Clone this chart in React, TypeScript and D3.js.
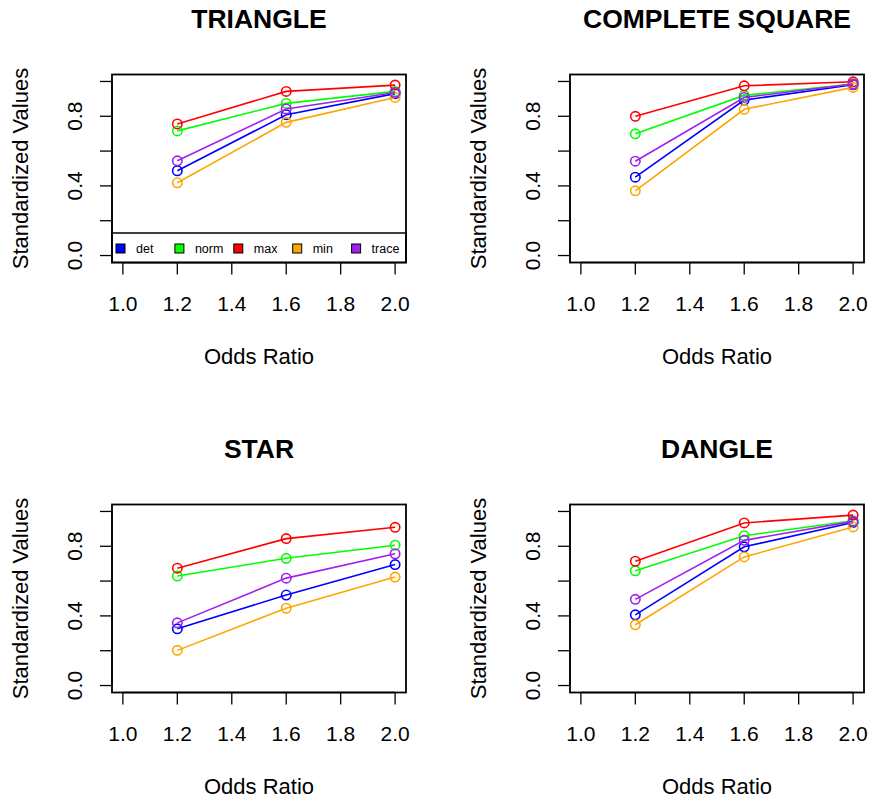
import React from 'react';
import * as d3 from 'd3';

// x positions (odds ratio) shared by all panels
const oddsRatios = [1.2, 1.6, 2.0];
const xTicks = [1.0, 1.2, 1.4, 1.6, 1.8, 2.0];
const yTicks = [0, 0.2, 0.4, 0.6, 0.8, 1.0];
const yTickLabels = ['0.0', '', '0.4', '', '0.8', ''];

const seriesNames = ['det', 'norm', 'max', 'min', 'trace'];
const seriesColors = ['#0000FF', '#00FF00', '#FF0000', '#FFA500', '#A020F0'];

// values in series order: det, norm, max, min, trace
const triangle = [
  [0.487, 0.809, 0.93],
  [0.716, 0.874, 0.943],
  [0.756, 0.943, 0.979],
  [0.418, 0.765, 0.908],
  [0.544, 0.842, 0.937],
];
const completeSquare = [
  [0.45, 0.893, 0.981],
  [0.699, 0.92, 0.985],
  [0.8, 0.975, 0.998],
  [0.372, 0.84, 0.966],
  [0.542, 0.908, 0.985],
];
const star = [
  [0.326, 0.52, 0.695],
  [0.629, 0.731, 0.806],
  [0.674, 0.844, 0.909],
  [0.202, 0.444, 0.623],
  [0.36, 0.617, 0.757],
];
const dangle = [
  [0.406, 0.797, 0.937],
  [0.659, 0.861, 0.947],
  [0.714, 0.934, 0.979],
  [0.349, 0.739, 0.911],
  [0.495, 0.834, 0.943],
];

const panelTitles = ['TRIANGLE', 'COMPLETE SQUARE', 'STAR', 'DANGLE'];
const panelData = [triangle, completeSquare, star, dangle];

const FONT = '"Liberation Sans", Arial, Helvetica, sans-serif';
const W = 873;
const H = 801;

const Panel = ({ title, data, left, top, showLegend }) => {
  const boxW = 294;
  const boxH = 188;
  const x = d3.scaleLinear().domain([0.96, 2.04]).range([left, left + boxW]);
  const y = d3.scaleLinear().domain([-0.04, 1.04]).range([top + boxH, top]);
  const line = d3.line<number>()
    .x((_, i) => x(oddsRatios[i]))
    .y(d => y(d));
  const cx = left + boxW / 2;
  const cy = top + boxH / 2;
  const tick = 12;

  return (
    <g>
      <text x={cx} y={top - 46.5} textAnchor="middle" fontFamily={FONT} fontWeight="bold" fontSize={26.5}>{title}</text>

      {/* x axis */}
      <line x1={x(1)} x2={x(2)} y1={top + boxH} y2={top + boxH} stroke="#000" strokeWidth={1.3} />
      {xTicks.map(t => (
        <g key={'x' + t}>
          <line x1={x(t)} x2={x(t)} y1={top + boxH} y2={top + boxH + tick} stroke="#000" strokeWidth={1.3} />
          <text x={x(t)} y={top + boxH + 48.5} textAnchor="middle" fontFamily={FONT} fontSize={21}>{t.toFixed(1)}</text>
        </g>
      ))}
      <text x={cx} y={top + boxH + 101} textAnchor="middle" fontFamily={FONT} fontSize={22}>Odds Ratio</text>

      {/* y axis */}
      <line x1={left} x2={left} y1={y(0)} y2={y(1)} stroke="#000" strokeWidth={1.3} />
      {yTicks.map((t, i) => (
        <g key={'y' + t}>
          <line x1={left - tick} x2={left} y1={y(t)} y2={y(t)} stroke="#000" strokeWidth={1.3} />
          {yTickLabels[i] && (
            <text transform={`translate(${left - 30},${y(t)}) rotate(-90)`} textAnchor="middle" fontFamily={FONT} fontSize={21}>{yTickLabels[i]}</text>
          )}
        </g>
      ))}
      <text transform={`translate(${left - 84},${cy}) rotate(-90)`} textAnchor="middle" fontFamily={FONT} fontSize={22}>Standardized Values</text>

      {/* series */}
      {data.map((vals, s) => (
        <g key={seriesNames[s]}>
          <path d={line(vals) || ''} fill="none" stroke={seriesColors[s]} strokeWidth={1.6} />
          {vals.map((v, i) => (
            <circle key={i} cx={x(oddsRatios[i])} cy={y(v)} r={4.7} fill="none" stroke={seriesColors[s]} strokeWidth={1.6} />
          ))}
        </g>
      ))}

      {showLegend && (
        <g>
          <rect x={left} y={top + boxH - 29.5} width={boxW} height={29.5} fill="#fff" stroke="#000" strokeWidth={1.5} />
          {seriesNames.map((name, s) => (
            <g key={name} transform={`translate(${left + 4 + s * 58.9},${top + boxH - 14})`}>
              <rect x={0} y={-4.5} width={9} height={9} fill={seriesColors[s]} stroke="#000" strokeWidth={1} />
              <text x={20} y={4.5} fontFamily={FONT} fontSize={12.5}>{name}</text>
            </g>
          ))}
        </g>
      )}

      <rect x={left} y={top} width={boxW} height={boxH} fill="none" stroke="#000" strokeWidth={1.8} />
    </g>
  );
};

export default function App() {
  const lefts = [112, 570];
  const tops = [74.5, 504.5];
  return (
    <svg width={W} height={H} viewBox={`0 0 ${W} ${H}`} style={{ position: 'absolute', left: 0, top: 0, background: '#fff' }}>
      <rect width={W} height={H} fill="#fff" />
      {panelData.map((data, i) => (
        <Panel
          key={panelTitles[i]}
          title={panelTitles[i]}
          data={data}
          left={lefts[i % 2]}
          top={tops[Math.floor(i / 2)]}
          showLegend={i === 0}
        />
      ))}
    </svg>
  );
}
